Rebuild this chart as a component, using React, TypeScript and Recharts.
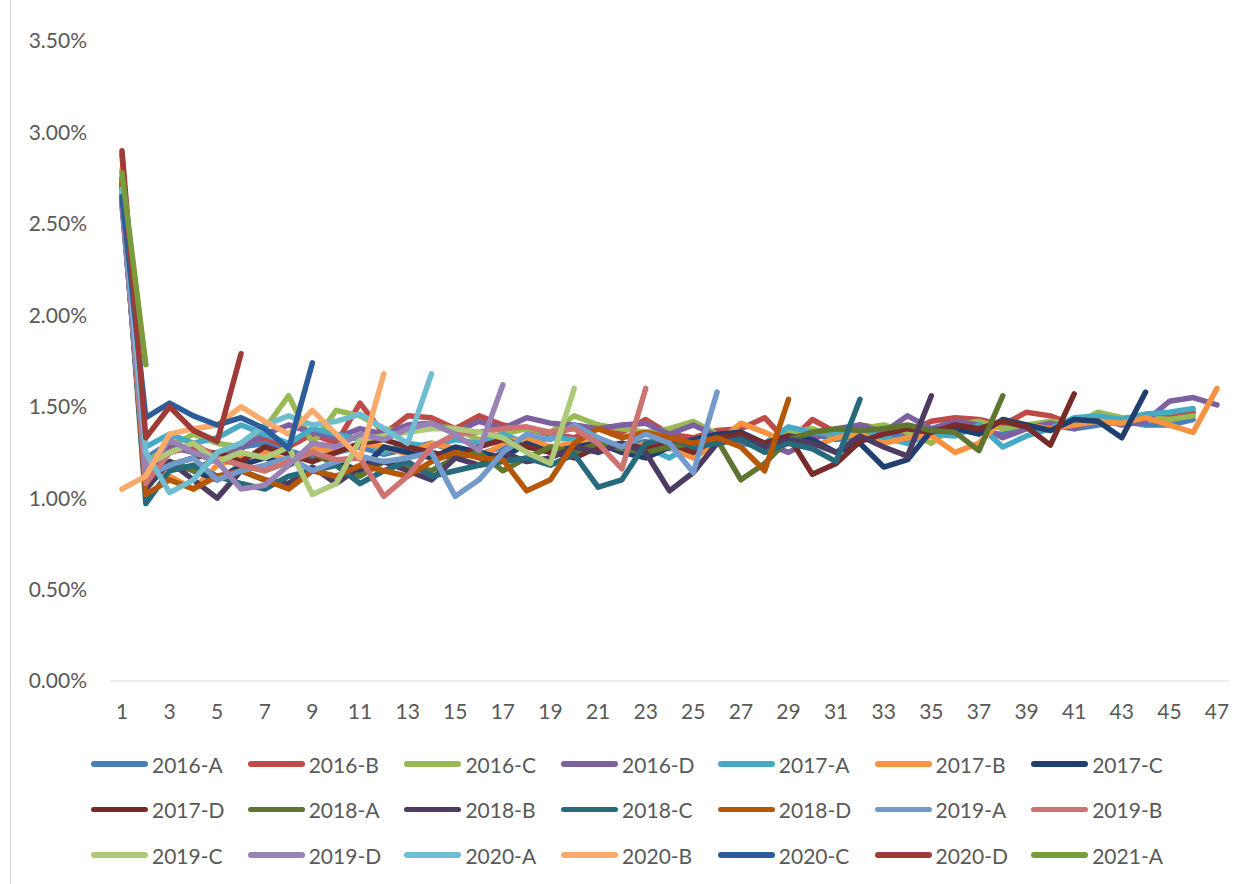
import { LineChart, Line, XAxis, YAxis } from "recharts";

// x positions 1..47
const periods = Array.from({ length: 47 }, (_, i) => i + 1);

const yTicks = [0, 0.5, 1, 1.5, 2, 2.5, 3, 3.5];

const seriesNames = [
  "2016-A", "2016-B", "2016-C", "2016-D", "2017-A", "2017-B", "2017-C",
  "2017-D", "2018-A", "2018-B", "2018-C", "2018-D", "2019-A", "2019-B",
  "2019-C", "2019-D", "2020-A", "2020-B", "2020-C", "2020-D", "2021-A",
];

const COLORS = [
  "#4A7EBB", "#BE4B48", "#98B954", "#7D60A0", "#46AAC5", "#F69240", "#1F3F6E",
  "#772C2A", "#5F7530", "#4D3B62", "#276A7C", "#B65708", "#729ACA", "#CD7371",
  "#AFC97A", "#9983B5", "#6FBDD1", "#F9AB6B", "#2C5D98", "#9E3A38", "#789B3B",
];

// values in %
const s2016A = [2.62, 1.22, 1.30, 1.25, 1.20, 1.28, 1.30, 1.26, 1.22, 1.25, 1.28, 1.24, 1.27, 1.30, 1.26, 1.24, 1.28, 1.30, 1.27, 1.25, 1.30, 1.28, 1.31, 1.27, 1.30, 1.33, 1.30, 1.28, 1.33, 1.35, 1.32, 1.34, 1.36, 1.33, 1.35, 1.38, 1.36, 1.35, 1.38, 1.40, 1.38, 1.40, 1.42, 1.40, 1.40, 1.43];
const s2016B = [2.88, 1.10, 1.25, 1.28, 1.24, 1.30, 1.33, 1.28, 1.35, 1.30, 1.52, 1.35, 1.45, 1.44, 1.38, 1.45, 1.40, 1.38, 1.35, 1.33, 1.40, 1.36, 1.43, 1.35, 1.33, 1.37, 1.38, 1.44, 1.30, 1.43, 1.36, 1.40, 1.38, 1.36, 1.42, 1.44, 1.43, 1.40, 1.47, 1.45, 1.40, 1.45, 1.42, 1.45, 1.44, 1.47];
const s2016C = [2.70, 1.20, 1.28, 1.35, 1.30, 1.28, 1.38, 1.56, 1.30, 1.48, 1.45, 1.38, 1.36, 1.40, 1.38, 1.32, 1.35, 1.38, 1.36, 1.45, 1.40, 1.38, 1.36, 1.38, 1.42, 1.35, 1.33, 1.30, 1.36, 1.38, 1.33, 1.38, 1.40, 1.36, 1.30, 1.40, 1.42, 1.38, 1.40, 1.42, 1.40, 1.47, 1.44, 1.44, 1.43, 1.45];
const s2016D = [2.60, 1.15, 1.28, 1.25, 1.20, 1.27, 1.35, 1.40, 1.36, 1.33, 1.38, 1.35, 1.40, 1.41, 1.36, 1.42, 1.38, 1.44, 1.41, 1.40, 1.38, 1.40, 1.41, 1.35, 1.40, 1.34, 1.32, 1.30, 1.25, 1.32, 1.38, 1.40, 1.36, 1.45, 1.38, 1.42, 1.40, 1.33, 1.38, 1.41, 1.38, 1.44, 1.40, 1.42, 1.53, 1.55, 1.51];
const s2017A = [2.66, 1.28, 1.35, 1.30, 1.33, 1.40, 1.35, 1.30, 1.38, 1.35, 1.32, 1.25, 1.30, 1.28, 1.32, 1.30, 1.35, 1.30, 1.33, 1.32, 1.25, 1.30, 1.28, 1.22, 1.30, 1.32, 1.35, 1.30, 1.39, 1.36, 1.35, 1.37, 1.33, 1.30, 1.35, 1.34, 1.40, 1.28, 1.34, 1.38, 1.44, 1.45, 1.43, 1.46, 1.47, 1.49];
const s2017B = [2.80, 1.15, 1.12, 1.05, 1.18, 1.22, 1.25, 1.20, 1.28, 1.25, 1.30, 1.28, 1.24, 1.30, 1.27, 1.22, 1.30, 1.33, 1.28, 1.30, 1.33, 1.25, 1.30, 1.28, 1.22, 1.30, 1.41, 1.36, 1.30, 1.28, 1.33, 1.35, 1.30, 1.33, 1.34, 1.25, 1.30, 1.43, 1.40, 1.38, 1.40, 1.42, 1.41, 1.44, 1.40, 1.36, 1.60];
const s2017C = [2.64, 1.05, 1.20, 1.15, 1.10, 1.18, 1.22, 1.18, 1.25, 1.20, 1.15, 1.28, 1.25, 1.22, 1.28, 1.25, 1.22, 1.30, 1.25, 1.28, 1.30, 1.25, 1.22, 1.28, 1.32, 1.35, 1.36, 1.30, 1.34, 1.32, 1.25, 1.30, 1.17, 1.21, 1.37, 1.38, 1.35, 1.43, 1.40, 1.37, 1.43, 1.42, 1.33, 1.58];
const s2017D = [2.75, 1.10, 1.18, 1.22, 1.25, 1.20, 1.28, 1.24, 1.20, 1.25, 1.30, 1.32, 1.28, 1.25, 1.22, 1.28, 1.32, 1.28, 1.25, 1.22, 1.28, 1.30, 1.27, 1.30, 1.25, 1.33, 1.35, 1.30, 1.34, 1.13, 1.19, 1.31, 1.35, 1.38, 1.36, 1.40, 1.38, 1.42, 1.39, 1.29, 1.57];
const s2018A = [2.72, 1.12, 1.20, 1.15, 1.22, 1.18, 1.15, 1.20, 1.25, 1.18, 1.12, 1.20, 1.18, 1.15, 1.22, 1.25, 1.15, 1.22, 1.28, 1.25, 1.30, 1.27, 1.25, 1.28, 1.30, 1.32, 1.10, 1.19, 1.32, 1.36, 1.38, 1.37, 1.38, 1.40, 1.37, 1.36, 1.26, 1.56];
const s2018B = [2.68, 1.05, 1.20, 1.10, 1.00, 1.15, 1.10, 1.08, 1.17, 1.08, 1.17, 1.20, 1.15, 1.10, 1.22, 1.18, 1.25, 1.20, 1.22, 1.28, 1.25, 1.30, 1.25, 1.04, 1.14, 1.30, 1.33, 1.28, 1.32, 1.30, 1.25, 1.34, 1.28, 1.23, 1.56];
const s2018C = [2.70, 0.97, 1.15, 1.18, 1.12, 1.08, 1.05, 1.12, 1.15, 1.18, 1.08, 1.15, 1.20, 1.12, 1.15, 1.18, 1.20, 1.22, 1.18, 1.24, 1.06, 1.10, 1.30, 1.33, 1.28, 1.30, 1.32, 1.25, 1.30, 1.27, 1.20, 1.54];
const s2018D = [2.73, 1.02, 1.10, 1.05, 1.12, 1.15, 1.10, 1.05, 1.15, 1.12, 1.18, 1.15, 1.12, 1.20, 1.25, 1.22, 1.21, 1.04, 1.10, 1.30, 1.38, 1.33, 1.36, 1.33, 1.30, 1.33, 1.28, 1.15, 1.54];
const s2019A = [2.62, 1.12, 1.18, 1.22, 1.10, 1.15, 1.18, 1.22, 1.15, 1.20, 1.23, 1.20, 1.22, 1.25, 1.01, 1.10, 1.25, 1.35, 1.32, 1.40, 1.33, 1.28, 1.35, 1.30, 1.14, 1.58];
const s2019B = [2.65, 1.08, 1.25, 1.30, 1.22, 1.18, 1.15, 1.20, 1.25, 1.21, 1.22, 1.01, 1.12, 1.28, 1.35, 1.36, 1.38, 1.39, 1.36, 1.38, 1.30, 1.16, 1.60];
const s2019C = [2.68, 1.18, 1.25, 1.30, 1.20, 1.25, 1.22, 1.28, 1.02, 1.08, 1.32, 1.34, 1.36, 1.38, 1.38, 1.36, 1.33, 1.25, 1.19, 1.60];
const s2019D = [2.63, 1.15, 1.32, 1.25, 1.20, 1.05, 1.07, 1.18, 1.30, 1.28, 1.35, 1.32, 1.38, 1.41, 1.35, 1.26, 1.62];
const s2020A = [2.69, 1.25, 1.03, 1.10, 1.25, 1.30, 1.40, 1.45, 1.40, 1.42, 1.46, 1.38, 1.30, 1.68];
const s2020B = [1.05, 1.12, 1.35, 1.38, 1.40, 1.50, 1.42, 1.35, 1.48, 1.35, 1.22, 1.68];
const s2020C = [2.65, 1.44, 1.52, 1.45, 1.40, 1.44, 1.38, 1.27, 1.74];
const s2020D = [2.90, 1.33, 1.50, 1.37, 1.31, 1.79];
const s2021A = [2.78, 1.73];

const seriesValues = [
  s2016A, s2016B, s2016C, s2016D, s2017A, s2017B, s2017C,
  s2017D, s2018A, s2018B, s2018C, s2018D, s2019A, s2019B,
  s2019C, s2019D, s2020A, s2020B, s2020C, s2020D, s2021A,
];

const chartData = periods.map((p, i) => {
  const row: Record<string, number | undefined> = { x: p };
  seriesNames.forEach((name, k) => {
    row[name] = seriesValues[k][i];
  });
  return row;
});

const FONT = "Lato, 'Noto Sans', sans-serif";
const TEXT = "#595959";

export default function App() {
  return (
    <div
      style={{
        position: "absolute",
        left: 0,
        top: 0,
        width: 1246,
        height: 884,
        background: "#fff",
        fontFamily: FONT,
      }}
    >
      <div
        style={{
          position: "absolute",
          left: 10,
          top: 0,
          width: 1,
          height: 884,
          background: "#d9d9d9",
        }}
      />

      <LineChart
        width={1246}
        height={884}
        data={chartData}
        margin={{ top: 41, right: 17, bottom: 173, left: 0 }}
      >
        <XAxis
          dataKey="x"
          interval={1}
          padding={{ left: 12, right: 12 }}
          stroke="#d9d9d9"
          tickLine={false}
          tickSize={0}
          tickMargin={23}
          height={30}
          tick={{ fill: TEXT, fontSize: 21, fontFamily: FONT }}
        />
        <YAxis
          width={110}
          domain={[0, 3.5]}
          ticks={yTicks}
          axisLine={false}
          tickLine={false}
          tickSize={0}
          tickMargin={23}
          tickFormatter={(v: number) => `${v.toFixed(2)}%`}
          tick={{ fill: TEXT, fontSize: 21, fontFamily: FONT }}
        />
        {seriesNames.map((name, k) => (
          <Line
            key={name}
            dataKey={name}
            stroke={COLORS[k]}
            strokeWidth={5.5}
            strokeLinecap="round"
            strokeLinejoin="round"
            dot={false}
            activeDot={false}
            isAnimationActive={false}
          />
        ))}
      </LineChart>

      {/* legend: 3 rows x 7 columns */}
      {seriesNames.map((name, k) => {
        const col = k % 7;
        const row = Math.floor(k / 7);
        return (
          <div
            key={name}
            style={{
              position: "absolute",
              left: 91 + col * 156.7,
              top: 764 + row * 45.5 - 14,
              height: 28,
              display: "flex",
              alignItems: "center",
              fontSize: 21,
              color: TEXT,
              whiteSpace: "nowrap",
            }}
          >
            <span
              style={{
                display: "inline-block",
                width: 57,
                height: 5.5,
                borderRadius: 3,
                background: COLORS[k],
                marginRight: 4,
              }}
            />
            {name}
          </div>
        );
      })}
    </div>
  );
}
